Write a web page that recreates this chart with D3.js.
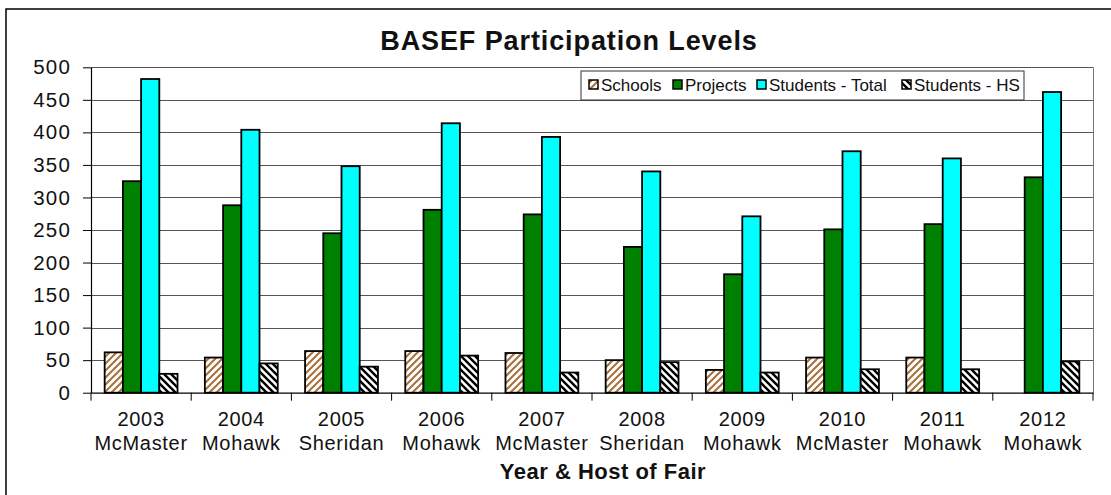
<!DOCTYPE html>
<html>
<head>
<meta charset="utf-8">
<script src="https://cdn.jsdelivr.net/npm/d3@7"></script>
<style>
  html, body { margin: 0; padding: 0; background: #fff; }
  svg { display: block; font-family: "Liberation Sans", Arial, sans-serif; }
</style>
</head>
<body>
<div id="chart"></div>
<script>
// Chart data
const years = ["2003", "2004", "2005", "2006", "2007", "2008", "2009", "2010", "2011", "2012"];
const hosts = ["McMaster", "Mohawk", "Sheridan", "Mohawk", "McMaster", "Sheridan", "Mohawk", "McMaster", "Mohawk", "Mohawk"];
const seriesNames = ["Schools", "Projects", "Students - Total", "Students - HS"];
const schools = [62, 54, 64, 64, 61, 50, 35, 54, 54, null];
const projects = [325, 288, 245, 281, 274, 224, 182, 251, 259, 331];
const studentsTotal = [482, 404, 348, 414, 393, 340, 271, 371, 360, 462];
const studentsHS = [29, 45, 40, 57, 31, 47, 31, 36, 36, 48];
const yTicks = [0, 50, 100, 150, 200, 250, 300, 350, 400, 450, 500];

const seriesValues = [schools, projects, studentsTotal, studentsHS];
const fills = ["url(#hatchSchools)", "#008000", "#00ffff", "url(#hatchHS)"];

const width = 1111, height = 495;
const plot = { left: 91, right: 1093, top: 67.3, bottom: 392.7 };

const svg = d3.select("#chart").append("svg")
    .attr("width", width)
    .attr("height", height);

// Hatch patterns
const defs = svg.append("defs");
const p1 = defs.append("pattern")
    .attr("id", "hatchSchools")
    .attr("patternUnits", "userSpaceOnUse")
    .attr("width", 7).attr("height", 7);
p1.append("rect").attr("width", 7).attr("height", 7).attr("fill", "#fff");
p1.append("path")
    .attr("d", "M0,7 L7,0 M-2,2 L2,-2 M5,9 L9,5")
    .attr("stroke", "#a8703a").attr("stroke-width", 2);

const p2 = defs.append("pattern")
    .attr("id", "hatchHS")
    .attr("patternUnits", "userSpaceOnUse")
    .attr("width", 7).attr("height", 7);
p2.append("rect").attr("width", 7).attr("height", 7).attr("fill", "#fff");
p2.append("path")
    .attr("d", "M0,0 L7,7 M-2,5 L2,9 M5,-2 L9,2")
    .attr("stroke", "#000").attr("stroke-width", 2.4);

// Outer chart border
svg.append("rect")
    .attr("x", 6).attr("y", 9)
    .attr("width", 1200).attr("height", 600)
    .attr("fill", "none").attr("stroke", "#000").attr("stroke-width", 1.5);

// Scales
const x0 = d3.scaleBand().domain(years).range([plot.left, plot.right]).padding(0);
const step = x0.bandwidth();
const barW = step / 5.5;
const x1 = d3.scaleBand().domain(seriesNames)
    .range([barW * 0.75, step - barW * 0.75]).padding(0);
const y = d3.scaleLinear().domain([0, 500]).range([plot.bottom, plot.top]);

// Gridlines
svg.append("g")
    .selectAll("line")
    .data(yTicks.filter(t => t > 0))
    .join("line")
    .attr("x1", plot.left).attr("x2", plot.right)
    .attr("y1", d => Math.round(y(d)) + 0.5).attr("y2", d => Math.round(y(d)) + 0.5)
    .attr("stroke", "#555").attr("stroke-width", 1);

// Plot area right border
svg.append("line")
    .attr("x1", plot.right + 0.5).attr("x2", plot.right + 0.5)
    .attr("y1", y(500)).attr("y2", plot.bottom)
    .attr("stroke", "#777");

// Y axis
const yAxis = svg.append("g")
    .attr("transform", `translate(${plot.left},0)`)
    .call(d3.axisLeft(y).tickValues(yTicks).tickSize(8).tickSizeOuter(0).tickPadding(12));
yAxis.select(".domain").attr("stroke", "#000").attr("stroke-width", 1.2);
yAxis.selectAll(".tick line").attr("stroke", "#000");
yAxis.selectAll(".tick text")
    .attr("font-size", 20.5)
    .attr("fill", "#111")
    .style("letter-spacing", "1.2px")
    .attr("font-family", "Liberation Sans, Arial, sans-serif");

// X axis
const xAxis = svg.append("g")
    .attr("transform", `translate(0,${plot.bottom})`)
    .call(d3.axisBottom(x0).tickSize(0).tickSizeOuter(0));
xAxis.select(".domain").attr("stroke", "#000").attr("stroke-width", 1.2);
xAxis.selectAll(".tick text").remove();

// Category boundary ticks
svg.append("g")
    .selectAll("line")
    .data(years.concat(["end"]))
    .join("line")
    .attr("x1", (d, i) => plot.left + i * step)
    .attr("x2", (d, i) => plot.left + i * step)
    .attr("y1", plot.bottom).attr("y2", plot.bottom + 8)
    .attr("stroke", "#000");

// Category labels
const labels = svg.append("g")
    .attr("font-size", 20)
    .attr("fill", "#111")
    .attr("text-anchor", "middle")
    .style("letter-spacing", "0.7px");
years.forEach((yr, i) => {
    const cx = x0(yr) + step / 2;
    labels.append("text").attr("x", cx).attr("y", 426).text(yr);
    labels.append("text").attr("x", cx).attr("y", 450).text(hosts[i]);
});

// Bars
const bars = svg.append("g");
seriesNames.forEach((s, si) => {
    bars.append("g")
        .selectAll("rect")
        .data(years.map((yr, i) => ({ yr, v: seriesValues[si][i] })).filter(d => d.v != null))
        .join("rect")
        .attr("x", d => x0(d.yr) + x1(s))
        .attr("y", d => y(d.v))
        .attr("width", x1.bandwidth())
        .attr("height", d => plot.bottom - y(d.v))
        .attr("fill", fills[si])
        .attr("stroke", "#000")
        .attr("stroke-width", 1.8);
});

// Legend
const legend = svg.append("g");
legend.append("rect")
    .attr("x", 581).attr("y", 71)
    .attr("width", 443).attr("height", 29)
    .attr("fill", "#fff").attr("stroke", "#333").attr("stroke-width", 1);
const legendX = [589, 673, 757, 902];
seriesNames.forEach((s, si) => {
    legend.append("rect")
        .attr("x", legendX[si]).attr("y", 80)
        .attr("width", 9).attr("height", 9)
        .attr("fill", fills[si])
        .attr("stroke", "#000").attr("stroke-width", 1.5);
    legend.append("text")
        .attr("x", legendX[si] + 12).attr("y", 91)
        .attr("font-size", 17)
        .attr("fill", "#111")
        .text(s);
});

// Title
svg.append("text")
    .attr("x", 569).attr("y", 50)
    .attr("text-anchor", "middle")
    .attr("font-size", 27)
    .attr("font-weight", "bold")
    .style("letter-spacing", "0.9px")
    .attr("fill", "#111")
    .text("BASEF Participation Levels");

// Axis title
svg.append("text")
    .attr("x", 603).attr("y", 479)
    .attr("text-anchor", "middle")
    .attr("font-size", 22)
    .attr("font-weight", "bold")
    .style("letter-spacing", "0.5px")
    .attr("fill", "#111")
    .text("Year & Host of Fair");
</script>
</body>
</html>
